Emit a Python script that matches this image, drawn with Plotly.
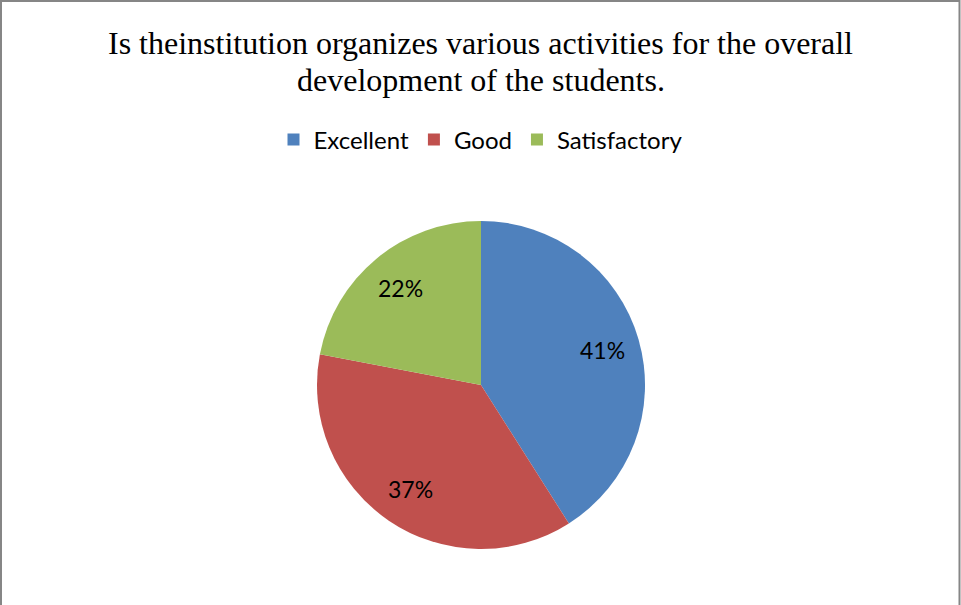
import math
import plotly.graph_objects as go

categories = ["Excellent", "Good", "Satisfactory"]
values = [41, 37, 22]
colors = ["#4F81BD", "#C0504D", "#9BBB59"]
title_lines = [
    "Is theinstitution organizes various activities for the overall",
    "development of the students.",
]

W, H = 961, 605
cx, cy, r = 481, 385, 164

fig = go.Figure(go.Pie(
    labels=categories,
    values=values,
    sort=False,
    direction="clockwise",
    rotation=0,
    marker=dict(colors=colors, line=dict(width=0)),
    textinfo="none",
    domain=dict(x=[(cx - r) / W, (cx + r) / W], y=[(H - cy - r) / H, (H - cy + r) / H]),
    hoverinfo="label+percent",
))

# percentage labels placed at ~0.77 radius along each slice's mid-angle
annotations = []
total = sum(values)
start = 0.0
for v in values:
    frac = v / total
    mid = (start + frac / 2) * 2 * math.pi
    start += frac
    px = cx + 0.77 * r * math.sin(mid)
    py = cy - 0.77 * r * math.cos(mid)
    annotations.append(dict(
        x=px / W, y=1 - py / H, xref="paper", yref="paper",
        text=f"{round(frac * 100)}%", showarrow=False,
        xanchor="center", yanchor="middle",
        font=dict(family="Lato", size=23, color="black"),
    ))

for line, ty in zip(title_lines, [43, 80]):
    annotations.append(dict(
        x=0.5, y=1 - ty / H, xref="paper", yref="paper",
        text=line, showarrow=False, xanchor="center", yanchor="middle",
        font=dict(family="Liberation Serif", size=32, color="black"),
    ))

fig.update_layout(
    width=W, height=H,
    margin=dict(l=0, r=0, t=0, b=0),
    paper_bgcolor="white",
    annotations=annotations,
    legend=dict(
        orientation="h", x=0.5, xanchor="center", y=1 - 140 / H, yanchor="middle",
        font=dict(family="Lato", size=24, color="black"),
        itemwidth=30,
    ),
    shapes=[dict(
        type="rect", xref="paper", yref="paper",
        x0=1 / W, x1=(W - 1.5) / W, y0=-0.05, y1=1 - 1 / H,
        line=dict(color="#868686", width=2),
    )],
)

fig.write_html("out.html", config={"displayModeBar": False},
               post_script="document.body.style.margin='0';")
